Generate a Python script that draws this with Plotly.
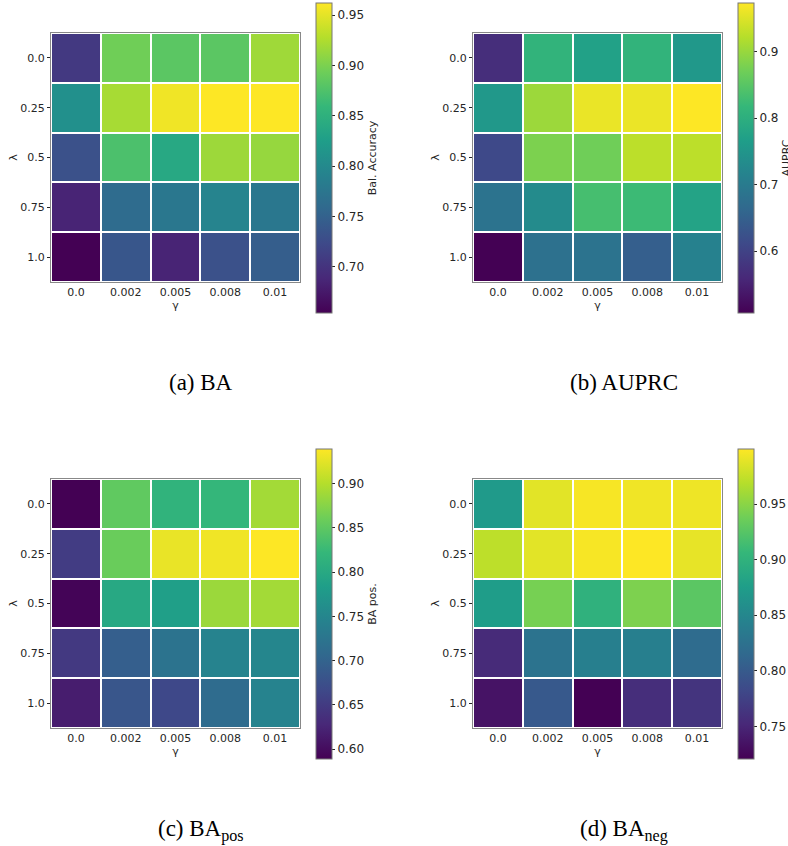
import plotly.graph_objects as go

gammas = ["0.0", "0.002", "0.005", "0.008", "0.01"]
lambdas = ["0.0", "0.25", "0.5", "0.75", "1.0"]

ba = [
    [0.706, 0.894, 0.882, 0.882, 0.917],
    [0.808, 0.921, 0.956, 0.962, 0.962],
    [0.731, 0.873, 0.839, 0.916, 0.913],
    [0.685, 0.762, 0.777, 0.793, 0.777],
    [0.654, 0.737, 0.685, 0.731, 0.746],
]
auprc = [
    [0.568, 0.810, 0.773, 0.810, 0.754],
    [0.754, 0.903, 0.959, 0.960, 0.973],
    [0.610, 0.880, 0.870, 0.926, 0.926],
    [0.684, 0.731, 0.833, 0.824, 0.777],
    [0.507, 0.680, 0.684, 0.647, 0.712],
]
ba_pos = [
    [0.589, 0.852, 0.816, 0.820, 0.890],
    [0.652, 0.858, 0.928, 0.932, 0.939],
    [0.592, 0.799, 0.785, 0.886, 0.890],
    [0.648, 0.694, 0.722, 0.746, 0.750],
    [0.617, 0.683, 0.666, 0.711, 0.746],
]
ba_neg = [
    [0.871, 0.988, 0.997, 0.994, 0.993],
    [0.972, 0.988, 0.997, 0.9995, 0.990],
    [0.874, 0.941, 0.899, 0.944, 0.927],
    [0.754, 0.827, 0.841, 0.841, 0.818],
    [0.735, 0.799, 0.7206, 0.757, 0.763],
]

cb_titles = ["Bal. Accuracy", "AUPRC", "BA pos.", "BA neg."]
cb_ticks = [
    [0.70, 0.75, 0.80, 0.85, 0.90, 0.95],
    [0.6, 0.7, 0.8, 0.9],
    [0.60, 0.65, 0.70, 0.75, 0.80, 0.85, 0.90],
    [0.75, 0.80, 0.85, 0.90, 0.95],
]
cb_fmt = [".2f", ".1f", ".2f", ".2f"]
captions = ["(a) BA", "(b) AUPRC", "(c) BA<sub>pos</sub>", "(d) BA<sub>neg</sub>"]

W, H = 788, 846
FONT = "DejaVu Sans"
TXT = "#262626"

# pixel geometry of the panels
panels = [
    dict(x0=51, x1=300, y0=33, y1=282, cbx=316, cby0=3, cby1=313, capx=201, capy=368),
    dict(x0=473, x1=722, y0=33, y1=282, cbx=738, cby0=3, cby1=313, capx=624, capy=368),
    dict(x0=51, x1=300, y0=479, y1=728, cbx=316, cby0=449, cby1=759, capx=201, capy=814),
    dict(x0=473, x1=722, y0=479, y1=728, cbx=738, cby0=449, cby1=759, capx=624, capy=814),
]
datas = [ba, auprc, ba_pos, ba_neg]

fig = go.Figure()
layout = {}
for i, (p, z) in enumerate(zip(panels, datas)):
    n = "" if i == 0 else str(i + 1)
    flat = [v for row in z for v in row]
    fig.add_trace(go.Heatmap(
        z=z, x=gammas, y=lambdas,
        xaxis="x" + n, yaxis="y" + n,
        colorscale="Viridis", zmin=min(flat), zmax=max(flat),
        xgap=2, ygap=2,
        colorbar=dict(
            x=p["cbx"] / W, xanchor="left", xpad=0, ypad=0,
            y=1 - p["cby0"] / H, yanchor="top",
            len=(p["cby1"] - p["cby0"]) / H, lenmode="fraction",
            thickness=16, thicknessmode="pixels",
            outlinewidth=1, outlinecolor="#777777",
            ticks="outside", ticklen=3, tickwidth=1, tickcolor=TXT,
            tickvals=cb_ticks[i], tickformat=cb_fmt[i],
            tickfont=dict(family=FONT, size=12, color=TXT),
            title=dict(text=cb_titles[i], side="right",
                       font=dict(family=FONT, size=11, color=TXT)),
        ),
        showscale=True,
    ))
    layout["xaxis" + n] = dict(
        domain=[p["x0"] / W, p["x1"] / W], anchor="y" + n, automargin=False,
        type="category", showgrid=False, zeroline=False,
        showline=True, linecolor="#888888", linewidth=1, mirror=True,
        ticks="", tickfont=dict(family=FONT, size=11, color=TXT),
        title=dict(text="γ", font=dict(family=FONT, size=11, color=TXT), standoff=0),
    )
    layout["yaxis" + n] = dict(
        domain=[1 - p["y1"] / H, 1 - p["y0"] / H], anchor="x" + n, automargin=False,
        type="category", autorange="reversed", showgrid=False, zeroline=False,
        showline=True, linecolor="#888888", linewidth=1, mirror=True,
        ticks="outside", ticklen=3, tickcolor=TXT,
        tickfont=dict(family=FONT, size=11, color=TXT),
        title=dict(text="λ", font=dict(family=FONT, size=11, color=TXT), standoff=0),
    )

annotations = []
for p, cap in zip(panels, captions):
    annotations.append(dict(
        text=cap, x=p["capx"] / W, y=1 - p["capy"] / H,
        xref="paper", yref="paper", xanchor="center", yanchor="top",
        showarrow=False, font=dict(family="Liberation Serif", size=23, color="black"),
    ))

fig.update_layout(
    width=W, height=H, margin=dict(l=0, r=0, t=0, b=0, autoexpand=False),
    paper_bgcolor="white", plot_bgcolor="white",
    showlegend=False, annotations=annotations, **layout,
)

fig.write_html(
    "out.html",
    config={"displayModeBar": False},
    post_script="document.body.style.margin='0';document.body.style.overflow='hidden';",
)
